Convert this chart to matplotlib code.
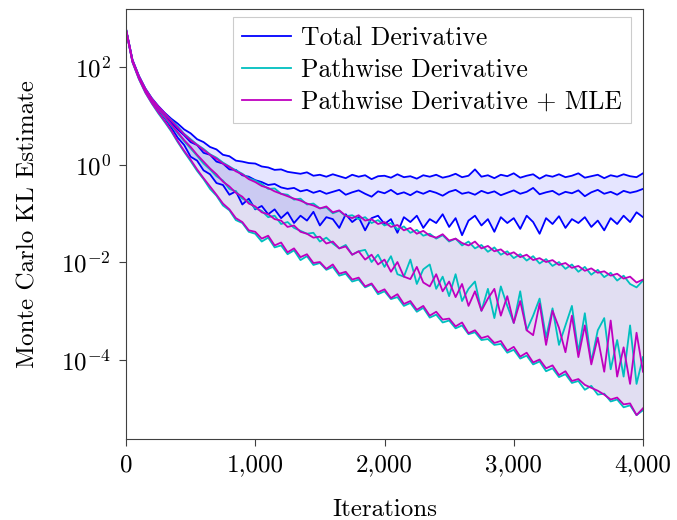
import numpy as np
import matplotlib
matplotlib.use("Agg")
import matplotlib.pyplot as plt
from matplotlib.ticker import FuncFormatter, FixedLocator, LogFormatterSciNotation, NullLocator

plt.rcParams['font.family'] = 'cmr10'
plt.rcParams['mathtext.fontset'] = 'cm'
plt.rcParams['axes.formatter.use_mathtext'] = True

# iterations, one value every 50 steps
iters = np.arange(0, 4001, 50)

# log10 of the KL estimate (upper / middle / lower curves)
total_hi = [2.78, 2.15, 1.82, 1.56, 1.36, 1.20, 1.06,
            0.94, 0.84, 0.72, 0.64, 0.52, 0.46, 0.36, 0.31, 0.20, 0.17, 0.08, 0.06, 0.03, 0.02,
            -0.04, -0.06, -0.11, -0.10, -0.15, -0.17, -0.19, -0.16, -0.23, -0.21,
            -0.25, -0.20, -0.24, -0.28, -0.21, -0.25, -0.22, -0.30, -0.24, -0.23,
            -0.27, -0.20, -0.26, -0.24, -0.29, -0.22, -0.25, -0.21, -0.27, -0.24,
            -0.19, -0.26, -0.23, -0.10, -0.25, -0.22, -0.28, -0.21, -0.24, -0.18,
            -0.27, -0.23, -0.20, -0.29, -0.22, -0.25, -0.20, -0.26, -0.23, -0.18,
            -0.27, -0.24, -0.21, -0.28, -0.22, -0.25, -0.20, -0.24, -0.26, -0.18]
total_mid = [2.77, 2.13, 1.80, 1.54, 1.34, 1.17, 1.02,
             0.86, 0.72, 0.60, 0.46, 0.40, 0.24, 0.20, 0.06, 0.02, -0.10, -0.11, -0.22, -0.25, -0.32,
             -0.36, -0.42, -0.40, -0.47, -0.50, -0.48, -0.55, -0.52, -0.58, -0.54,
             -0.60, -0.56, -0.52, -0.62, -0.57, -0.53, -0.60, -0.66, -0.55, -0.59,
             -0.52, -0.61, -0.57, -0.63, -0.55, -0.60, -0.54, -0.58, -0.64, -0.56,
             -0.52, -0.60, -0.57, -0.62, -0.54, -0.59, -0.55, -0.63, -0.58, -0.53,
             -0.60, -0.56, -0.48, -0.61, -0.57, -0.54, -0.62, -0.56, -0.59, -0.53,
             -0.65, -0.57, -0.52, -0.60, -0.56, -0.62, -0.54, -0.58, -0.55, -0.50]
total_lo = [2.76, 2.11, 1.77, 1.50, 1.29, 1.11, 0.95,
            0.76, 0.55, 0.40, 0.16, 0.08, -0.12, -0.20, -0.38, -0.42, -0.62, -0.55, -0.82, -0.70, -0.92,
            -0.85, -1.02, -0.92, -1.10, -0.98, -1.20, -1.05, -1.15, -0.97, -1.25,
            -1.08, -1.12, -1.30, -1.02, -1.18, -1.08, -1.35, -1.10, -1.05, -1.22,
            -1.12, -1.40, -1.08, -1.18, -1.05, -1.30, -1.12, -1.20, -1.02, -1.28,
            -1.10, -1.45, -1.15, -1.05, -1.25, -1.12, -1.38, -1.08, -1.20, -1.10,
            -1.32, -1.05, -1.18, -1.42, -1.10, -1.22, -1.06, -1.30, -1.12, -1.20,
            -1.08, -1.28, -1.15, -1.35, -1.10, -1.22, -1.05, -1.18, -0.98, -1.08]

path_hi = [2.78, 2.14, 1.81, 1.55, 1.35, 1.18, 1.04,
           0.91, 0.78, 0.63, 0.52, 0.41, 0.32, 0.21, 0.14, 0.04, -0.04, -0.12, -0.19, -0.28, -0.33,
           -0.40, -0.50, -0.49, -0.60, -0.62, -0.72, -0.70, -0.82, -0.80, -0.90,
           -0.88, -1.00, -0.95, -1.06, -1.04, -1.12, -1.08, -1.20, -1.14, -1.25,
           -1.20, -1.33, -1.27, -1.40, -1.34, -1.46, -1.42, -1.52, -1.45, -1.58,
           -1.52, -1.66, -1.58, -1.72, -1.65, -1.79, -1.70, -1.85, -1.78, -1.92,
           -1.84, -1.97, -1.88, -2.03, -1.94, -2.08, -2.00, -2.14, -2.05, -2.20,
           -2.10, -2.26, -2.16, -2.31, -2.22, -2.38, -2.28, -2.45, -2.52, -2.38]
path_mid = [2.77, 2.12, 1.78, 1.52, 1.31, 1.13, 0.97,
            0.80, 0.64, 0.48, 0.33, 0.18, 0.02, -0.10, -0.24, -0.33, -0.50, -0.55, -0.70, -0.76, -0.90,
            -0.95, -1.08, -1.05, -1.22, -1.18, -1.30, -1.36, -1.42, -1.40, -1.58,
            -1.50, -1.62, -1.72, -1.65, -1.85, -1.78, -1.75, -2.00, -1.85, -2.10,
            -1.88, -2.25, -2.30, -1.95, -2.45, -2.15, -2.05, -2.55, -2.30, -2.70,
            -2.25, -2.80, -2.55, -2.40, -3.00, -2.55, -3.15, -2.50, -2.90, -3.25,
            -2.60, -3.40, -3.10, -2.75, -3.55, -2.95, -3.70, -3.30, -2.90, -3.85,
            -3.05, -4.05, -3.40, -3.15, -4.20, -3.60, -4.35, -3.30, -4.50, -3.95]
path_lo = [2.76, 2.10, 1.75, 1.47, 1.25, 1.05, 0.87,
           0.68, 0.46, 0.26, 0.07, -0.13, -0.30, -0.50, -0.64, -0.84, -0.94, -1.14, -1.20, -1.38, -1.42,
           -1.58, -1.50, -1.70, -1.66, -1.84, -1.76, -1.96, -1.88, -2.06, -2.02,
           -2.16, -2.10, -2.28, -2.24, -2.40, -2.36, -2.52, -2.46, -2.66, -2.60,
           -2.76, -2.72, -2.90, -2.84, -3.02, -2.94, -3.14, -3.08, -3.24, -3.20,
           -3.36, -3.30, -3.48, -3.44, -3.60, -3.58, -3.70, -3.68, -3.86, -3.80,
           -3.98, -3.92, -4.10, -4.04, -4.24, -4.18, -4.36, -4.30, -4.48, -4.44,
           -4.62, -4.54, -4.72, -4.70, -4.86, -4.82, -4.98, -4.94, -5.14, -5.04]

pwmle_hi = [2.78, 2.14, 1.81, 1.55, 1.35, 1.19, 1.05,
            0.90, 0.76, 0.62, 0.50, 0.40, 0.30, 0.20, 0.12, 0.02, -0.05, -0.14, -0.20, -0.30, -0.36,
            -0.44, -0.48, -0.55, -0.60, -0.65, -0.70, -0.74, -0.80, -0.84, -0.90,
            -0.86, -0.98, -0.94, -1.05, -1.10, -1.04, -1.15, -1.12, -1.22, -1.18,
            -1.28, -1.24, -1.35, -1.30, -1.42, -1.36, -1.46, -1.50, -1.43, -1.56,
            -1.52, -1.61, -1.66, -1.58, -1.72, -1.67, -1.78, -1.74, -1.85, -1.80,
            -1.90, -1.85, -1.96, -1.92, -2.00, -1.96, -2.06, -2.02, -2.12, -2.08,
            -2.18, -2.13, -2.22, -2.19, -2.28, -2.24, -2.34, -2.30, -2.42, -2.36]
pwmle_mid = [2.77, 2.13, 1.79, 1.53, 1.32, 1.14, 0.99,
             0.82, 0.66, 0.50, 0.36, 0.20, 0.06, -0.08, -0.20, -0.35, -0.45, -0.58, -0.66, -0.80, -0.86,
             -0.98, -1.02, -1.12, -1.15, -1.28, -1.25, -1.38, -1.42, -1.50, -1.48,
             -1.62, -1.58, -1.72, -1.68, -1.85, -1.78, -1.95, -1.85, -2.05, -1.95,
             -2.20, -2.00, -2.30, -2.35, -2.10, -2.42, -2.50, -2.25, -2.60, -2.40,
             -2.72, -2.45, -2.90, -2.60, -3.00, -2.75, -2.55, -3.10, -2.70, -3.25,
             -2.80, -3.40, -3.50, -2.85, -3.70, -3.00, -3.35, -3.85, -3.10, -3.95,
             -3.30, -4.10, -3.55, -4.25, -3.20, -4.35, -3.75, -4.50, -3.45, -4.25]
pwmle_lo = [2.76, 2.10, 1.76, 1.48, 1.26, 1.07, 0.89,
            0.70, 0.48, 0.28, 0.10, -0.10, -0.28, -0.45, -0.62, -0.80, -0.92, -1.10, -1.18, -1.35, -1.38,
            -1.52, -1.46, -1.66, -1.60, -1.80, -1.72, -1.90, -1.84, -2.02, -2.00,
            -2.14, -2.05, -2.24, -2.20, -2.36, -2.32, -2.50, -2.44, -2.62, -2.56,
            -2.74, -2.66, -2.86, -2.80, -2.98, -2.90, -3.10, -3.02, -3.18, -3.16,
            -3.32, -3.24, -3.46, -3.40, -3.56, -3.52, -3.66, -3.62, -3.82, -3.74,
            -3.94, -3.86, -4.06, -4.00, -4.18, -4.12, -4.32, -4.24, -4.44, -4.40,
            -4.52, -4.58, -4.64, -4.72, -4.82, -4.78, -4.92, -4.90, -5.14, -5.00]

methods = ["Total Derivative", "Pathwise Derivative", "Pathwise Derivative + MLE"]
colors = ["#0000ff", "#00bfbf", "#bf00bf"]
curves = [(total_hi, total_mid, total_lo),
          (path_hi, path_mid, path_lo),
          (pwmle_hi, pwmle_mid, pwmle_lo)]

fig = plt.figure(figsize=(6.77, 5.2), dpi=100)
ax = fig.add_axes([126 / 677, 1 - 439 / 520, 517 / 677, 430 / 520])

# shaded bands first
for (hi, mid, lo), c in zip(curves, colors):
    ax.fill_between(iters, 10 ** np.array(lo), 10 ** np.array(hi), color=c, alpha=0.1, lw=0)

for (hi, mid, lo), c, name in zip(curves, colors, methods):
    ax.plot(iters, 10 ** np.array(hi), color=c, lw=1.3, label=name)
    ax.plot(iters, 10 ** np.array(mid), color=c, lw=1.3)
    ax.plot(iters, 10 ** np.array(lo), color=c, lw=1.3)

ax.set_yscale('log')
ax.set_xlim(0, 4000)
ax.set_ylim(10 ** -5.63, 10 ** 3.19)
ax.yaxis.set_major_locator(FixedLocator([1e2, 1e0, 1e-2, 1e-4]))
ax.yaxis.set_major_formatter(LogFormatterSciNotation())
ax.yaxis.set_minor_locator(NullLocator())
ax.set_xticks([0, 1000, 2000, 3000, 4000])
ax.xaxis.set_major_formatter(FuncFormatter(lambda v, p: f"{int(v):,}"))

for s in ax.spines.values():
    s.set_color('#404040')
    s.set_linewidth(0.8)
ax.tick_params(direction='out', length=5, width=0.8, color='#404040', labelsize=18, pad=6)

ax.set_xlabel("Iterations", fontsize=18, labelpad=16)
ax.set_ylabel("Monte Carlo KL Estimate", fontsize=18, labelpad=15)

leg = ax.legend(loc='upper right', bbox_to_anchor=(0.977, 0.981), borderaxespad=0,
                fontsize=18.5, fancybox=False, edgecolor='#cccccc', framealpha=1,
                handlelength=1.9, handletextpad=0.4, labelspacing=0.33, borderpad=0.35)
leg.get_frame().set_linewidth(0.8)

fig.savefig("out.png", dpi=100)
